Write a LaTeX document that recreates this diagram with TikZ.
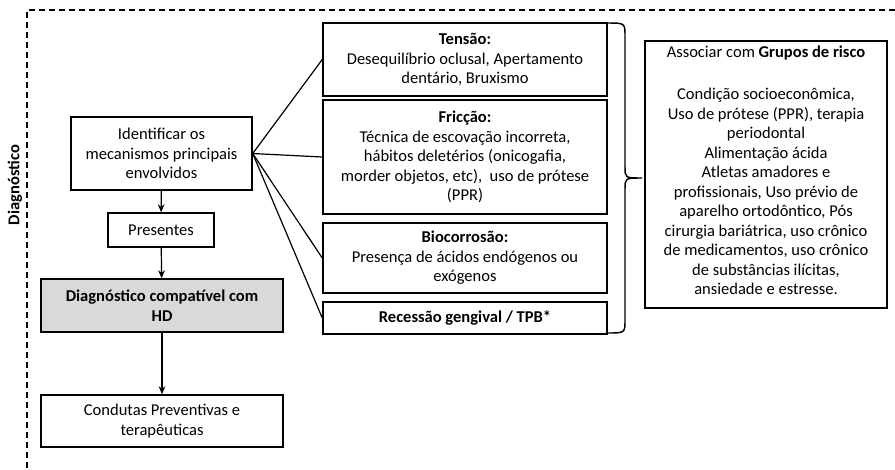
\documentclass[tikz,border=0pt]{standalone}
\usepackage{fontspec}
\setmainfont{Carlito}
\usetikzlibrary{arrows.meta}
\newlength\px
\setlength\px{0.75pt}
\newcommand\bodyfont{\fontsize{12.4}{14.6}\selectfont}
\definecolor{boxgray}{RGB}{217,217,217}
\begin{document}
\begin{tikzpicture}[x=0.75pt,y=-0.75pt,
  box/.style={draw, line width=1.1pt, align=center, inner sep=0pt, font=\bodyfont},
  conn/.style={line width=0.9pt},
  arr/.style={line width=0.9pt, -{Stealth[length=6pt,width=5pt]}},
  frame/.style={line width=1pt, dash pattern=on 4.5pt off 3pt}]
\useasboundingbox (0,0) rectangle (895,469);

% dashed frame of the diagnosis stage
\draw[frame] (895,10) -- (27,10) -- (27,469);
\node[font=\bodyfont\bfseries, rotate=90] (stage) at (15,185) {Diagnóstico};

% left column
\node[box, minimum width=181\px, minimum height=73\px] (ident) at (161.5,153.5)
  {Identificar os\\mecanismos principais\\envolvidos};
\node[box, minimum width=106\px, minimum height=34\px] (pres) at (161,230) {Presentes};
\node[box, fill=boxgray, font=\bodyfont\bfseries, minimum width=242\px, minimum height=53\px] (diag) at (162,305.5)
  {Diagnóstico compatível com\\HD};
\node[box, minimum width=242\px, minimum height=52\px] (cond) at (162,421)
  {Condutas Preventivas e\\terapêuticas};

% mechanisms
\node[box, minimum width=284\px, minimum height=73\px] (tensao) at (465,59.5)
  {\textbf{Tensão:}\\Desequilíbrio oclusal, Apertamento\\dentário, Bruxismo};
\node[box, minimum width=284\px, minimum height=114\px] (friccao) at (465,157)
  {\textbf{Fricção:}\\Técnica de escovação incorreta,\\hábitos deletérios (onicogafia,\\morder objetos, etc),~~uso de prótese\\(PPR)};
\node[box, minimum width=284\px, minimum height=70\px] (bio) at (465,258)
  {\textbf{Biocorrosão:}\\Presença de ácidos endógenos ou\\exógenos};
\node[box, minimum width=284\px, minimum height=32\px] (rec) at (465,318)
  {\textbf{Recessão gengival / TPB*}};

% risk groups
\node[box, minimum width=242\px, minimum height=267\px] (grupos) at (766,174.5)
  {\parbox[c][262\px][t]{236\px}{\centering\strut Associar com \textbf{Grupos de risco}\\[17.5pt]
  Condição socioeconômica,\\Uso de prótese (PPR), terapia\\periodontal\\Alimentação ácida\\
  Atletas amadores e\\profissionais, Uso prévio de\\aparelho ortodôntico, Pós\\
  cirurgia bariátrica, uso crônico\\de medicamentos, uso crônico\\de substâncias ilícitas,\\
  ansiedade e estresse.}};

% brace gathering the mechanisms
\draw[line width=1.1pt] (607,23) .. controls (625,23) .. (625,36) -- (625,167)
  .. controls (625,178) .. (642,178) .. controls (625,178) .. (625,189) -- (625,320)
  .. controls (625,333) .. (607,333);

% connectors
\draw[arr] (ident) -- (pres);
\draw[arr] (pres) -- (diag);
\draw[arr] (diag) -- (cond);
\draw[conn] (ident.east) -- (tensao.west);
\draw[conn] (ident.east) -- (friccao.west);
\draw[conn] (ident.east) -- (bio.west);
\draw[conn] (ident.east) -- (rec.west);
\end{tikzpicture}
\end{document}
